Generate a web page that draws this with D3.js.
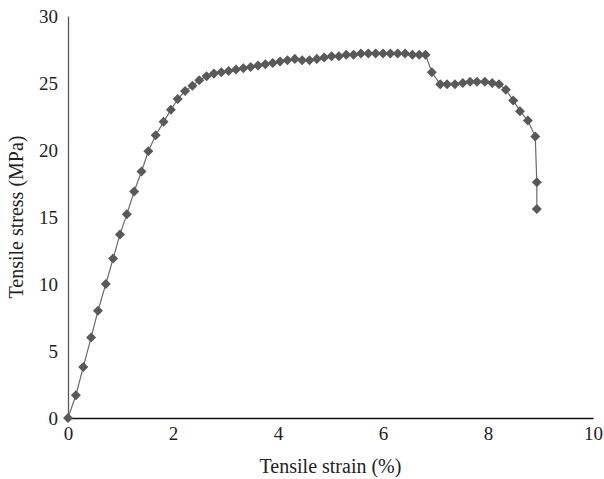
<!DOCTYPE html>
<html>
<head>
<meta charset="utf-8">
<script src="https://cdn.jsdelivr.net/npm/d3@7"></script>
<style>
  body { margin: 0; background: #fff; }
  text { font-family: "Liberation Serif", "DejaVu Serif", serif; fill: #222; }
</style>
</head>
<body>
<div id="graph"></div>
<script>
const width = 604;
const height = 479;
const margin = {left: 68, right: 11, top: 16, bottom: 60};

// strain (%)
const strain = [0, 0.15, 0.29, 0.44, 0.57, 0.72, 0.86, 0.99, 1.12, 1.26, 1.40, 1.53, 1.67, 1.82, 1.96,
  2.09, 2.23, 2.37, 2.50, 2.64, 2.78, 2.92, 3.06, 3.20, 3.34, 3.48, 3.62, 3.76, 3.90, 4.04, 4.18,
  4.32, 4.46, 4.60, 4.74, 4.88, 5.02, 5.16, 5.30, 5.44, 5.58, 5.72, 5.86, 6.00, 6.14, 6.28, 6.42,
  6.56, 6.69, 6.81, 6.93, 7.09, 7.22, 7.37, 7.52, 7.66, 7.79, 7.94, 8.08, 8.21, 8.34, 8.48, 8.61,
  8.76, 8.90, 8.93, 8.93];
// stress (MPa)
const stress = [0, 1.7, 3.8, 6.0, 8.0, 10.0, 11.9, 13.7, 15.2, 16.9, 18.4, 19.9, 21.1, 22.1, 23.0,
  23.8, 24.4, 24.8, 25.2, 25.5, 25.7, 25.8, 25.9, 26.0, 26.1, 26.2, 26.3, 26.4, 26.5, 26.6, 26.7,
  26.8, 26.7, 26.7, 26.8, 26.9, 27.0, 27.0, 27.1, 27.1, 27.2, 27.2, 27.2, 27.2, 27.2, 27.2, 27.2,
  27.1, 27.1, 27.1, 25.8, 24.9, 24.9, 24.9, 25.0, 25.1, 25.1, 25.1, 25.0, 24.9, 24.5, 23.7, 22.9,
  22.2, 21.0, 17.6, 15.6];

const x_ticks = [0, 2, 4, 6, 8, 10];
const y_ticks = [0, 5, 10, 15, 20, 25, 30];

const svg = d3.select('#graph')
  .append('svg')
  .attr('width', width)
  .attr('height', height);

const x = d3.scaleLinear().domain([0, 10]).range([margin.left, width - margin.right]);
const y = d3.scaleLinear().domain([0, 30]).range([height - margin.bottom - 1, margin.top]);

// axes, no tick marks
const xAxis = svg.append('g')
  .attr('transform', `translate(0, ${y(0)})`)
  .call(d3.axisBottom(x).tickValues(x_ticks).tickSize(0).tickPadding(9).tickFormat(d3.format('d')));
xAxis.select('.domain').attr('stroke', '#111').attr('stroke-width', 1.3);
xAxis.selectAll('text').attr('font-size', 19).attr('font-family', '"Liberation Serif", serif').attr('fill', '#222');

const yAxis = svg.append('g')
  .attr('transform', `translate(${x(0)}, 0)`)
  .call(d3.axisLeft(y).tickValues(y_ticks).tickSize(0).tickPadding(10).tickFormat(d3.format('d')));
yAxis.select('.domain').attr('stroke', '#595959').attr('stroke-width', 1.3);
yAxis.selectAll('text').attr('font-size', 19).attr('font-family', '"Liberation Serif", serif').attr('fill', '#222');

const pts = strain.map((s, i) => [s, stress[i]]);

svg.append('path')
  .datum(pts)
  .attr('fill', 'none')
  .attr('stroke', '#6b6b6b')
  .attr('stroke-width', 1.2)
  .attr('d', d3.line().x(d => x(d[0])).y(d => y(d[1])));

svg.selectAll('.pt')
  .data(pts)
  .enter()
  .append('path')
  .attr('class', 'pt')
  .attr('transform', d => `translate(${x(d[0])}, ${y(d[1])})`)
  .attr('d', d3.symbol(d3.symbolDiamond2, 64))
  .attr('fill', '#595959');

// axis titles
svg.append('text')
  .attr('x', (x(0) + x(10)) / 2)
  .attr('y', 473)
  .attr('text-anchor', 'middle')
  .attr('font-size', 20)
  .text('Tensile strain (%)');

svg.append('text')
  .attr('transform', `translate(23, ${(y(0) + y(30)) / 2}) rotate(-90)`)
  .attr('text-anchor', 'middle')
  .attr('font-size', 20)
  .text('Tensile stress (MPa)');
</script>
</body>
</html>
